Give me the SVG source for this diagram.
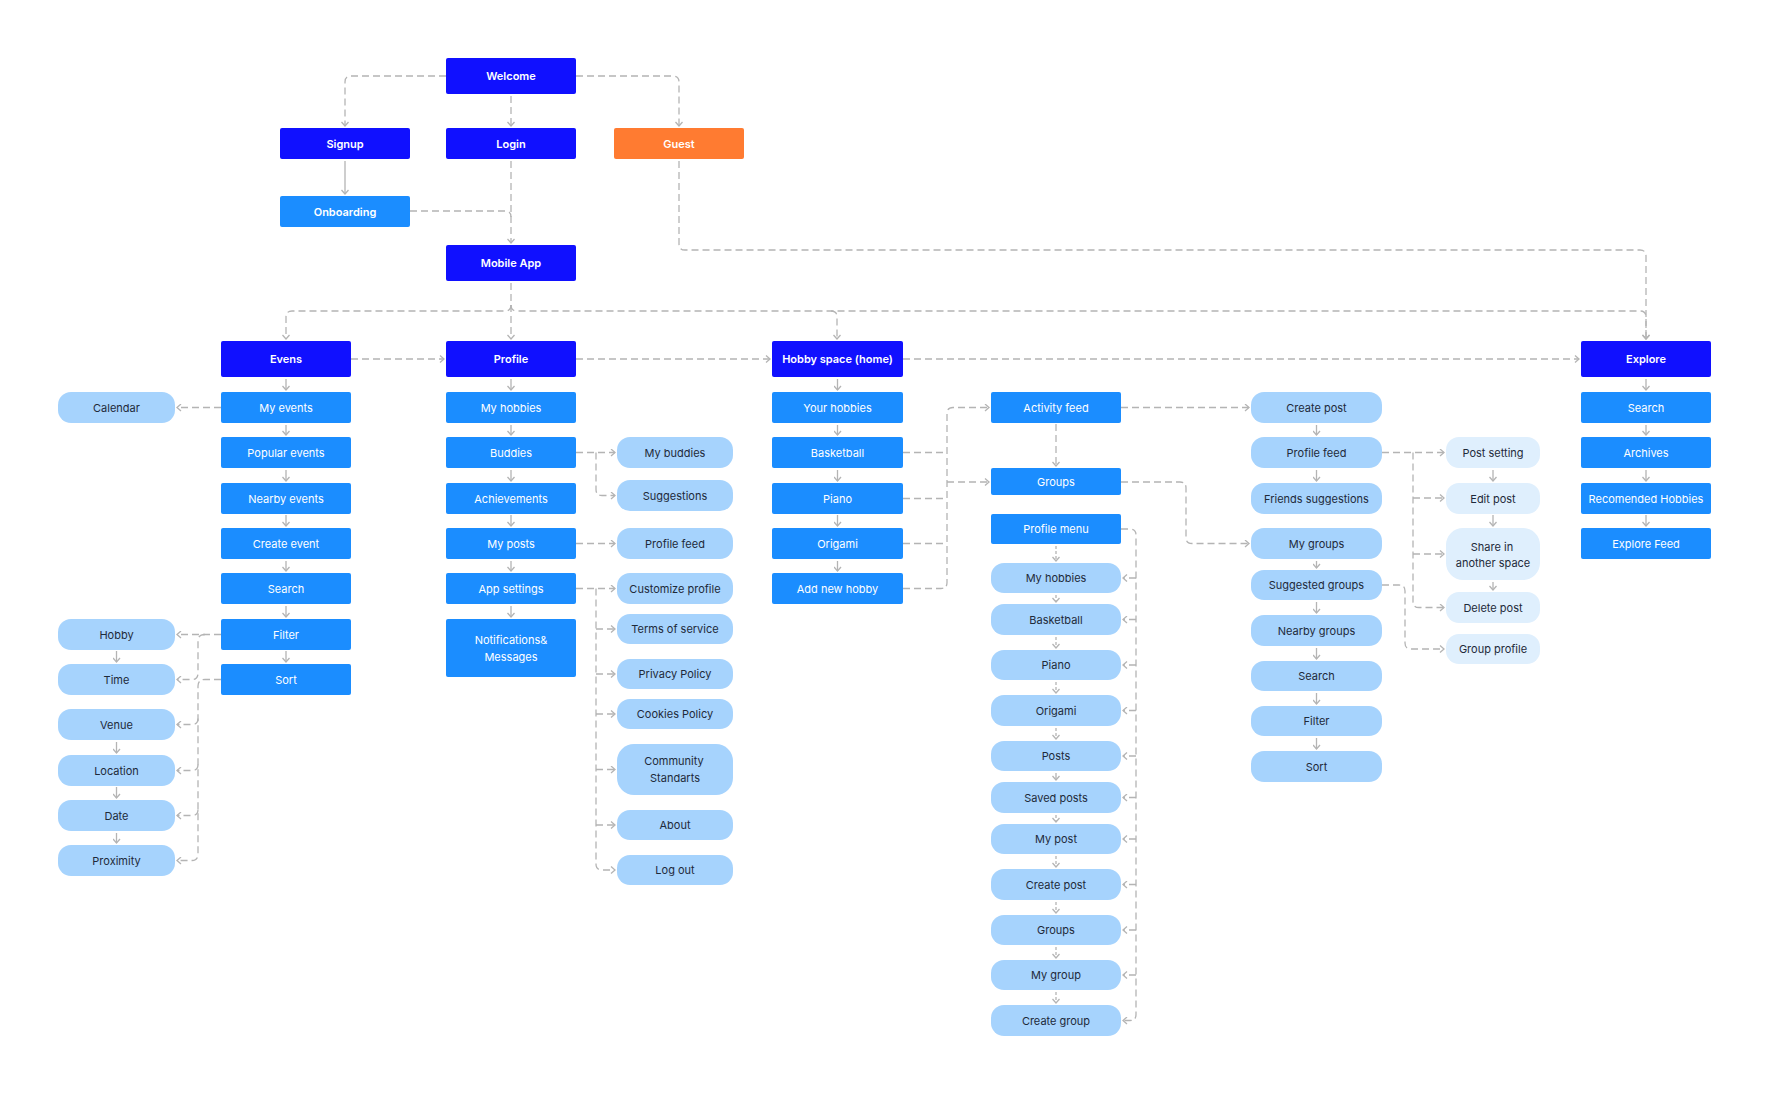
<svg xmlns="http://www.w3.org/2000/svg" width="1770" height="1094" viewBox="0 0 1770 1094">
<style>
text{font-family:Inter,"Liberation Sans",sans-serif;font-size:11px;text-anchor:middle;dominant-baseline:central}
.n1{fill:#1010FF}
.n2{fill:#1B8DFF}
.og{fill:#FF7B31}
.p{fill:#A6D3FD}
.pl{fill:#DFEFFD}
.tw{fill:#ffffff}
.tb{fill:#ffffff;font-weight:600}
.td{fill:#1E2A3A}
.c{fill:none;stroke:#B4B4B4;stroke-width:1.3;stroke-dasharray:7 4}
.s{fill:none;stroke:#B4B4B4;stroke-width:1.3}
.cd{fill:none;stroke:#B4B4B4;stroke-width:1.3;stroke-dasharray:3 2}
</style>
<defs>
<marker id="ah" viewBox="0 0 8 8" refX="7" refY="4" markerWidth="8" markerHeight="8" markerUnits="userSpaceOnUse" orient="auto">
<path d="M3,0.5 L7,4 L3,7.5" fill="none" stroke="#B4B4B4" stroke-width="1.3"/>
</marker>
</defs>
<rect width="1770" height="1094" fill="#ffffff"/>

<g id="connectors">
<!-- top -->
<path class="c" d="M446,76 H351 Q345,76 345,82 V126" marker-end="url(#ah)"/>
<path class="c" d="M511,96 V126" marker-end="url(#ah)"/>
<path class="c" d="M576,76 H673 Q679,76 679,82 V126" marker-end="url(#ah)"/>
<path class="s" d="M345,161 V194" marker-end="url(#ah)"/>
<path class="c" d="M511,161 V243" marker-end="url(#ah)"/>
<path class="c" d="M410,211 H505 Q511,211 511,217"/>
<path class="c" d="M679,161 V244 Q679,250 685,250 H1640 Q1646,250 1646,256 V339" marker-end="url(#ah)"/>
<path class="c" d="M511,283 V339" marker-end="url(#ah)"/>
<path class="c" d="M511,305 Q511,311 505,311 H292 Q286,311 286,317 V339" marker-end="url(#ah)"/>
<path class="c" d="M511,305 Q511,311 517,311 H1640 Q1646,311 1646,317 V339" marker-end="url(#ah)"/>
<path class="c" d="M831,311 Q837,311 837,317 V339" marker-end="url(#ah)"/>
<path class="c" d="M351,359 H444" marker-end="url(#ah)"/>
<path class="c" d="M576,359 H770" marker-end="url(#ah)"/>
<path class="c" d="M903,359 H1579" marker-end="url(#ah)"/>
<!-- Evens -->
<path class="c" d="M221,407.5 H177" marker-end="url(#ah)"/>
<path class="c" d="M221,634.5 H177" marker-end="url(#ah)"/>
<path class="c" d="M205,634.5 Q198,634.5 198,641 V673 Q198,679.5 192,679.5 H177" marker-end="url(#ah)"/>
<path class="c" d="M221,679.5 H205 Q198,679.5 198,686 V854 Q198,860.5 192,860.5 H177" marker-end="url(#ah)"/>
<path class="c" d="M198,718.5 Q198,724.5 192,724.5 H177" marker-end="url(#ah)"/>
<path class="c" d="M198,764.5 Q198,770.5 192,770.5 H177" marker-end="url(#ah)"/>
<path class="c" d="M198,809.5 Q198,815.5 192,815.5 H177" marker-end="url(#ah)"/>
<g>
<path class="s" d="M286,379 V390" marker-end="url(#ah)"/>
<path class="s" d="M286,425 V435" marker-end="url(#ah)"/>
<path class="s" d="M286,470 V481" marker-end="url(#ah)"/>
<path class="s" d="M286,515 V526" marker-end="url(#ah)"/>
<path class="s" d="M286,561 V571" marker-end="url(#ah)"/>
<path class="s" d="M286,606 V617" marker-end="url(#ah)"/>
<path class="s" d="M286,651 V662" marker-end="url(#ah)"/>
<path class="s" d="M116.5,651 V662" marker-end="url(#ah)"/>
<path class="s" d="M116.5,742 V753" marker-end="url(#ah)"/>
<path class="s" d="M116.5,787 V798" marker-end="url(#ah)"/>
<path class="s" d="M116.5,833 V843" marker-end="url(#ah)"/>
</g>
<!-- Profile -->
<path class="c" d="M576,452.5 H615" marker-end="url(#ah)"/>
<path class="c" d="M596,452.5 V489.5 Q596,495.5 602,495.5 H615" marker-end="url(#ah)"/>
<path class="c" d="M576,543.5 H615" marker-end="url(#ah)"/>
<path class="c" d="M576,588.5 H615" marker-end="url(#ah)"/>
<path class="c" d="M596,588.5 V864 Q596,870 602,870 H615" marker-end="url(#ah)"/>
<path class="c" d="M596,629 H615" marker-end="url(#ah)"/>
<path class="c" d="M596,674 H615" marker-end="url(#ah)"/>
<path class="c" d="M596,714 H615" marker-end="url(#ah)"/>
<path class="c" d="M596,769.5 H615" marker-end="url(#ah)"/>
<path class="c" d="M596,825 H615" marker-end="url(#ah)"/>
<g>
<path class="s" d="M511,379 V390" marker-end="url(#ah)"/>
<path class="s" d="M511,425 V435" marker-end="url(#ah)"/>
<path class="s" d="M511,470 V481" marker-end="url(#ah)"/>
<path class="s" d="M511,515 V526" marker-end="url(#ah)"/>
<path class="s" d="M511,561 V571" marker-end="url(#ah)"/>
<path class="s" d="M511,606 V617" marker-end="url(#ah)"/>
</g>
<!-- Hobby space -->
<g>
<path class="s" d="M837.5,379 V390" marker-end="url(#ah)"/>
<path class="s" d="M837.5,425 V435" marker-end="url(#ah)"/>
<path class="s" d="M837.5,470 V481" marker-end="url(#ah)"/>
<path class="s" d="M837.5,515 V526" marker-end="url(#ah)"/>
<path class="s" d="M837.5,561 V571" marker-end="url(#ah)"/>
</g>
<path class="c" d="M903,588.5 H941 Q947,588.5 947,582.5 V413.5 Q947,407.5 953,407.5 H989" marker-end="url(#ah)"/>
<path class="c" d="M903,452.5 H947"/>
<path class="c" d="M903,498.5 H947"/>
<path class="c" d="M903,543.5 H947"/>
<path class="c" d="M947,482 H989" marker-end="url(#ah)"/>
<!-- Activity / groups / profile menu -->
<path class="c" d="M1056,424 V466" marker-end="url(#ah)"/>
<path class="c" d="M1121,407.5 H1249" marker-end="url(#ah)"/>
<path class="c" d="M1121,482 H1180 Q1186,482 1186,488 V537.5 Q1186,543.5 1192,543.5 H1249" marker-end="url(#ah)"/>
<path class="c" d="M1121,529 H1130 Q1136,529 1136,535 V1014.5 Q1136,1020.5 1130,1020.5 H1123" marker-end="url(#ah)"/>
<path class="c" d="M1136,578 H1123" marker-end="url(#ah)"/>
<path class="c" d="M1136,619.5 H1123" marker-end="url(#ah)"/>
<path class="c" d="M1136,665 H1123" marker-end="url(#ah)"/>
<path class="c" d="M1136,710.5 H1123" marker-end="url(#ah)"/>
<path class="c" d="M1136,756 H1123" marker-end="url(#ah)"/>
<path class="c" d="M1136,797.5 H1123" marker-end="url(#ah)"/>
<path class="c" d="M1136,839 H1123" marker-end="url(#ah)"/>
<path class="c" d="M1136,884.5 H1123" marker-end="url(#ah)"/>
<path class="c" d="M1136,930 H1123" marker-end="url(#ah)"/>
<path class="c" d="M1136,975 H1123" marker-end="url(#ah)"/>
<g>
<path class="cd" d="M1056,546 V561" marker-end="url(#ah)"/>
<path class="cd" d="M1056,595 V602" marker-end="url(#ah)"/>
<path class="cd" d="M1056,637 V648" marker-end="url(#ah)"/>
<path class="cd" d="M1056,682 V693" marker-end="url(#ah)"/>
<path class="cd" d="M1056,728 V739" marker-end="url(#ah)"/>
<path class="s" d="M1056,773 V780" marker-end="url(#ah)"/>
<path class="cd" d="M1056,815 V822" marker-end="url(#ah)"/>
<path class="cd" d="M1056,856 V867" marker-end="url(#ah)"/>
<path class="cd" d="M1056,902 V913" marker-end="url(#ah)"/>
<path class="cd" d="M1056,947 V958" marker-end="url(#ah)"/>
<path class="cd" d="M1056,992 V1003" marker-end="url(#ah)"/>
</g>
<!-- Create post column -->
<g>
<path class="s" d="M1316.5,425 V435" marker-end="url(#ah)"/>
<path class="s" d="M1316.5,470 V481" marker-end="url(#ah)"/>
<path class="s" d="M1316.5,561 V568" marker-end="url(#ah)"/>
<path class="s" d="M1316.5,602 V613" marker-end="url(#ah)"/>
<path class="s" d="M1316.5,648 V659" marker-end="url(#ah)"/>
<path class="s" d="M1316.5,693 V704" marker-end="url(#ah)"/>
<path class="s" d="M1316.5,738 V749" marker-end="url(#ah)"/>
</g>
<path class="c" d="M1382,452.5 H1444" marker-end="url(#ah)"/>
<path class="c" d="M1413,452.5 V601.5 Q1413,607.5 1419,607.5 H1444" marker-end="url(#ah)"/>
<path class="c" d="M1413,498 H1444" marker-end="url(#ah)"/>
<path class="c" d="M1413,554 H1444" marker-end="url(#ah)"/>
<path class="c" d="M1382,585 H1399 Q1405,585 1405,591 V643 Q1405,649 1411,649 H1444" marker-end="url(#ah)"/>
<g>
<path class="s" d="M1493,470 V481" marker-end="url(#ah)"/>
<path class="s" d="M1493,515 V526" marker-end="url(#ah)"/>
<path class="s" d="M1493,582 V590" marker-end="url(#ah)"/>
</g>
<!-- Explore -->
<g>
<path class="s" d="M1646,379 V390" marker-end="url(#ah)"/>
<path class="s" d="M1646,425 V435" marker-end="url(#ah)"/>
<path class="s" d="M1646,470 V481" marker-end="url(#ah)"/>
<path class="s" d="M1646,515 V526" marker-end="url(#ah)"/>
</g>
</g>

<!-- top level -->
<g id="welcome"><rect class="n1" x="446" y="58" width="130" height="36" rx="2"/><text class="tb" x="511" y="76">Welcome</text></g>
<g id="signup"><rect class="n1" x="280" y="128" width="130" height="31" rx="2"/><text class="tb" x="345" y="143.5">Signup</text></g>
<g id="login"><rect class="n1" x="446" y="128" width="130" height="31" rx="2"/><text class="tb" x="511" y="143.5">Login</text></g>
<g id="guest"><rect class="og" x="614" y="128" width="130" height="31" rx="2"/><text class="tb" x="679" y="143.5">Guest</text></g>
<g id="onboarding"><rect class="n2" x="280" y="196" width="130" height="31" rx="2"/><text class="tb" x="345" y="211.5">Onboarding</text></g>
<g id="mobile-app"><rect class="n1" x="446" y="245" width="130" height="36" rx="2"/><text class="tb" x="511" y="263">Mobile App</text></g>
<g id="evens"><rect class="n1" x="221" y="341" width="130" height="36" rx="2"/><text class="tb" x="286" y="359">Evens</text></g>
<g id="profile"><rect class="n1" x="446" y="341" width="130" height="36" rx="2"/><text class="tb" x="511" y="359">Profile</text></g>
<g id="hobby-space"><rect class="n1" x="772" y="341" width="131" height="36" rx="2"/><text class="tb" x="837.5" y="359">Hobby space (home)</text></g>
<g id="explore"><rect class="n1" x="1581" y="341" width="130" height="36" rx="2"/><text class="tb" x="1646" y="359">Explore</text></g>

<!-- Evens column -->
<g id="my-events"><rect class="n2" x="221" y="392" width="130" height="31" rx="2"/><text class="tw" x="286" y="407.5">My events</text></g>
<g id="popular-events"><rect class="n2" x="221" y="437" width="130" height="31" rx="2"/><text class="tw" x="286" y="452.5">Popular events</text></g>
<g id="nearby-events"><rect class="n2" x="221" y="483" width="130" height="31" rx="2"/><text class="tw" x="286" y="498.5">Nearby events</text></g>
<g id="create-event"><rect class="n2" x="221" y="528" width="130" height="31" rx="2"/><text class="tw" x="286" y="543.5">Create event</text></g>
<g id="ev-search"><rect class="n2" x="221" y="573" width="130" height="31" rx="2"/><text class="tw" x="286" y="588.5">Search</text></g>
<g id="ev-filter"><rect class="n2" x="221" y="619" width="130" height="31" rx="2"/><text class="tw" x="286" y="634.5">Filter</text></g>
<g id="ev-sort"><rect class="n2" x="221" y="664" width="130" height="31" rx="2"/><text class="tw" x="286" y="679.5">Sort</text></g>

<g id="calendar"><rect class="p" x="58" y="392" width="117" height="31" rx="13"/><text class="td" x="116.5" y="407.5">Calendar</text></g>
<g id="hobby"><rect class="p" x="58" y="619" width="117" height="31" rx="13"/><text class="td" x="116.5" y="634.5">Hobby</text></g>
<g id="time"><rect class="p" x="58" y="664" width="117" height="31" rx="13"/><text class="td" x="116.5" y="679.5">Time</text></g>
<g id="venue"><rect class="p" x="58" y="709" width="117" height="31" rx="13"/><text class="td" x="116.5" y="724.5">Venue</text></g>
<g id="location"><rect class="p" x="58" y="755" width="117" height="31" rx="13"/><text class="td" x="116.5" y="770.5">Location</text></g>
<g id="date"><rect class="p" x="58" y="800" width="117" height="31" rx="13"/><text class="td" x="116.5" y="815.5">Date</text></g>
<g id="proximity"><rect class="p" x="58" y="845" width="117" height="31" rx="13"/><text class="td" x="116.5" y="860.5">Proximity</text></g>

<!-- Profile column -->
<g id="my-hobbies"><rect class="n2" x="446" y="392" width="130" height="31" rx="2"/><text class="tw" x="511" y="407.5">My hobbies</text></g>
<g id="buddies"><rect class="n2" x="446" y="437" width="130" height="31" rx="2"/><text class="tw" x="511" y="452.5">Buddies</text></g>
<g id="achievements"><rect class="n2" x="446" y="483" width="130" height="31" rx="2"/><text class="tw" x="511" y="498.5">Achievements</text></g>
<g id="my-posts"><rect class="n2" x="446" y="528" width="130" height="31" rx="2"/><text class="tw" x="511" y="543.5">My posts</text></g>
<g id="app-settings"><rect class="n2" x="446" y="573" width="130" height="31" rx="2"/><text class="tw" x="511" y="588.5">App settings</text></g>
<g id="notifications"><rect class="n2" x="446" y="619" width="130" height="58" rx="2"/><text class="tw" x="511" y="640">Notifications&amp;</text><text class="tw" x="511" y="657">Messages</text></g>

<g id="my-buddies"><rect class="p" x="617" y="437" width="116" height="31" rx="13"/><text class="td" x="675" y="452.5">My buddies</text></g>
<g id="suggestions"><rect class="p" x="617" y="480" width="116" height="31" rx="13"/><text class="td" x="675" y="495.5">Suggestions</text></g>
<g id="pr-profile-feed"><rect class="p" x="617" y="528" width="116" height="31" rx="13"/><text class="td" x="675" y="543.5">Profile feed</text></g>
<g id="customize-profile"><rect class="p" x="617" y="573" width="116" height="31" rx="13"/><text class="td" x="675" y="588.5">Customize profile</text></g>
<g id="terms"><rect class="p" x="617" y="614" width="116" height="30" rx="13"/><text class="td" x="675" y="629">Terms of service</text></g>
<g id="privacy"><rect class="p" x="617" y="659" width="116" height="30" rx="13"/><text class="td" x="675" y="674">Privacy Policy</text></g>
<g id="cookies"><rect class="p" x="617" y="699" width="116" height="30" rx="13"/><text class="td" x="675" y="714">Cookies Policy</text></g>
<g id="community"><rect class="p" x="617" y="744" width="116" height="51" rx="17"/><text class="td" x="674" y="761">Community</text><text class="td" x="675" y="778">Standarts</text></g>
<g id="about"><rect class="p" x="617" y="810" width="116" height="30" rx="13"/><text class="td" x="675" y="825">About</text></g>
<g id="log-out"><rect class="p" x="617" y="855" width="116" height="30" rx="13"/><text class="td" x="675" y="870">Log out</text></g>

<!-- Hobby space column -->
<g id="your-hobbies"><rect class="n2" x="772" y="392" width="131" height="31" rx="2"/><text class="tw" x="837.5" y="407.5">Your hobbies</text></g>
<g id="hs-basketball"><rect class="n2" x="772" y="437" width="131" height="31" rx="2"/><text class="tw" x="837.5" y="452.5">Basketball</text></g>
<g id="hs-piano"><rect class="n2" x="772" y="483" width="131" height="31" rx="2"/><text class="tw" x="837.5" y="498.5">Piano</text></g>
<g id="hs-origami"><rect class="n2" x="772" y="528" width="131" height="31" rx="2"/><text class="tw" x="837.5" y="543.5">Origami</text></g>
<g id="add-new-hobby"><rect class="n2" x="772" y="573" width="131" height="31" rx="2"/><text class="tw" x="837.5" y="588.5">Add new hobby</text></g>

<!-- Activity column -->
<g id="activity-feed"><rect class="n2" x="991" y="392" width="130" height="31" rx="2"/><text class="tw" x="1056" y="407.5">Activity feed</text></g>
<g id="groups"><rect class="n2" x="991" y="468" width="130" height="27" rx="2"/><text class="tw" x="1056" y="481.5">Groups</text></g>
<g id="profile-menu"><rect class="n2" x="991" y="514" width="130" height="30" rx="2"/><text class="tw" x="1056" y="529">Profile menu</text></g>
<g id="pm-my-hobbies"><rect class="p" x="991" y="563" width="130" height="30" rx="13"/><text class="td" x="1056" y="578">My hobbies</text></g>
<g id="pm-basketball"><rect class="p" x="991" y="604" width="130" height="31" rx="13"/><text class="td" x="1056" y="619.5">Basketball</text></g>
<g id="pm-piano"><rect class="p" x="991" y="650" width="130" height="30" rx="13"/><text class="td" x="1056" y="665">Piano</text></g>
<g id="pm-origami"><rect class="p" x="991" y="695" width="130" height="31" rx="13"/><text class="td" x="1056" y="710.5">Origami</text></g>
<g id="pm-posts"><rect class="p" x="991" y="741" width="130" height="30" rx="13"/><text class="td" x="1056" y="756">Posts</text></g>
<g id="pm-saved-posts"><rect class="p" x="991" y="782" width="130" height="31" rx="13"/><text class="td" x="1056" y="797.5">Saved posts</text></g>
<g id="pm-my-post"><rect class="p" x="991" y="824" width="130" height="30" rx="13"/><text class="td" x="1056" y="839">My post</text></g>
<g id="pm-create-post"><rect class="p" x="991" y="869" width="130" height="31" rx="13"/><text class="td" x="1056" y="884.5">Create post</text></g>
<g id="pm-groups"><rect class="p" x="991" y="915" width="130" height="30" rx="13"/><text class="td" x="1056" y="930">Groups</text></g>
<g id="pm-my-group"><rect class="p" x="991" y="960" width="130" height="30" rx="13"/><text class="td" x="1056" y="975">My group</text></g>
<g id="pm-create-group"><rect class="p" x="991" y="1005" width="130" height="31" rx="13"/><text class="td" x="1056" y="1020.5">Create group</text></g>

<!-- Create post column -->
<g id="create-post"><rect class="p" x="1251" y="392" width="131" height="31" rx="13"/><text class="td" x="1316.5" y="407.5">Create post</text></g>
<g id="profile-feed"><rect class="p" x="1251" y="437" width="131" height="31" rx="13"/><text class="td" x="1316.5" y="452.5">Profile feed</text></g>
<g id="friends-suggestions"><rect class="p" x="1251" y="483" width="131" height="31" rx="13"/><text class="td" x="1316.5" y="498.5">Friends suggestions</text></g>
<g id="my-groups"><rect class="p" x="1251" y="528" width="131" height="31" rx="13"/><text class="td" x="1316.5" y="543.5">My groups</text></g>
<g id="suggested-groups"><rect class="p" x="1251" y="570" width="131" height="30" rx="13"/><text class="td" x="1316.5" y="585">Suggested groups</text></g>
<g id="nearby-groups"><rect class="p" x="1251" y="615" width="131" height="31" rx="13"/><text class="td" x="1316.5" y="630.5">Nearby groups</text></g>
<g id="gr-search"><rect class="p" x="1251" y="661" width="131" height="30" rx="13"/><text class="td" x="1316.5" y="676">Search</text></g>
<g id="gr-filter"><rect class="p" x="1251" y="706" width="131" height="30" rx="13"/><text class="td" x="1316.5" y="721">Filter</text></g>
<g id="gr-sort"><rect class="p" x="1251" y="751" width="131" height="31" rx="13"/><text class="td" x="1316.5" y="766.5">Sort</text></g>

<!-- Post column -->
<g id="post-setting"><rect class="pl" x="1446" y="437" width="94" height="31" rx="13"/><text class="td" x="1493" y="452.5">Post setting</text></g>
<g id="edit-post"><rect class="pl" x="1446" y="483" width="94" height="31" rx="13"/><text class="td" x="1493" y="498.5">Edit post</text></g>
<g id="share"><rect class="pl" x="1446" y="528" width="94" height="52" rx="17"/><text class="td" x="1492" y="547">Share in</text><text class="td" x="1493" y="563">another space</text></g>
<g id="delete-post"><rect class="pl" x="1446" y="592" width="94" height="31" rx="13"/><text class="td" x="1493" y="607.5">Delete post</text></g>
<g id="group-profile"><rect class="pl" x="1446" y="634" width="94" height="30" rx="13"/><text class="td" x="1493" y="649">Group profile</text></g>

<!-- Explore column -->
<g id="ex-search"><rect class="n2" x="1581" y="392" width="130" height="31" rx="2"/><text class="tw" x="1646" y="407.5">Search</text></g>
<g id="archives"><rect class="n2" x="1581" y="437" width="130" height="31" rx="2"/><text class="tw" x="1646" y="452.5">Archives</text></g>
<g id="recomended"><rect class="n2" x="1581" y="483" width="130" height="31" rx="2"/><text class="tw" x="1646" y="498.5">Recomended Hobbies</text></g>
<g id="explore-feed"><rect class="n2" x="1581" y="528" width="130" height="31" rx="2"/><text class="tw" x="1646" y="543.5">Explore Feed</text></g>
</svg>
